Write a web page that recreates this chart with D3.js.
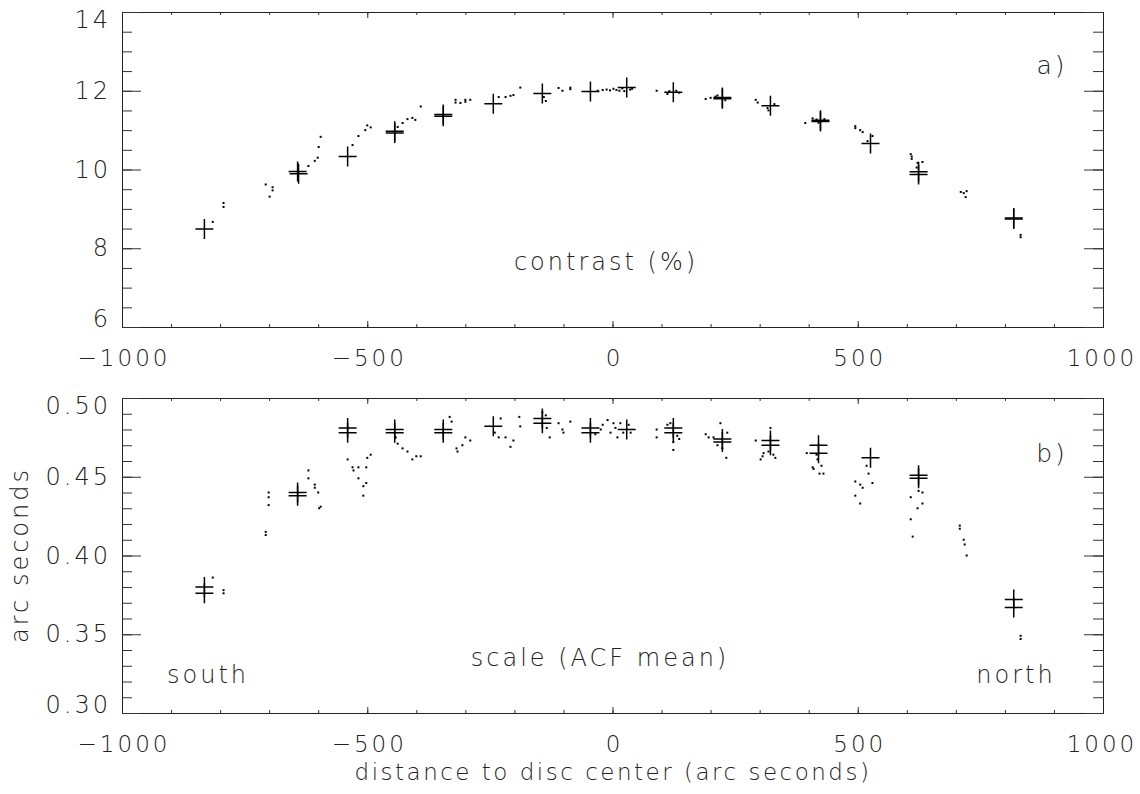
<!DOCTYPE html>
<html>
<head>
<meta charset="utf-8">
<script src="https://cdn.jsdelivr.net/npm/d3@7"></script>
<style>
  body { margin: 0; background: #fff; }
  text { font-family: "DejaVu Sans", "Liberation Sans", sans-serif; font-weight: 200; fill: #222; letter-spacing: 3px; }
</style>
</head>
<body>
<svg id="chart" width="1140" height="794"></svg>
<script>
// panel a) contrast (%)
const crossA = [
  [-832, 8.49], [-642, 9.95], [-640, 9.89], [-540, 10.33], [-444, 10.97], [-444, 10.93],
  [-345, 11.40], [-345, 11.35], [-243, 11.67], [-143, 11.93], [-45, 11.98], [29, 12.08],
  [124, 11.96], [224, 11.80], [224, 11.83], [322, 11.62], [424, 11.25], [424, 11.22],
  [526, 10.66], [624, 9.94], [624, 9.87], [818, 8.77], [818, 8.74]
];
const dotsA = [
  [-815, 8.67], [-793, 9.15], [-793, 9.05], [-707, 9.62], [-693, 9.55], [-693, 9.47], [-699, 9.31],
  [-620, 10.09], [-607, 10.22], [-601, 10.30], [-599, 10.57], [-595, 10.83],
  [-530, 10.62], [-518, 10.85], [-504, 11.00], [-500, 11.12], [-493, 11.07],
  [-438, 11.08], [-428, 11.18], [-418, 11.28], [-408, 11.31], [-402, 11.26], [-391, 11.60],
  [-320, 11.77], [-320, 11.70], [-310, 11.69], [-300, 11.72], [-300, 11.77], [-290, 11.77],
  [-232, 11.84], [-218, 11.84], [-208, 11.87], [-202, 11.89], [-188, 12.08],
  [-140, 11.84], [-136, 11.74], [-110, 12.07], [-102, 12.00], [-86, 12.04], [-86, 12.08],
  [-30, 12.00], [-20, 12.02], [-12, 12.03], [-5, 12.01], [2, 12.05], [8, 12.02], [14, 12.00],
  [20, 12.06], [24, 11.99], [36, 12.03], [40, 12.05],
  [90, 12.00], [112, 11.92], [116, 11.99], [130, 12.00], [136, 11.95],
  [190, 11.79], [200, 11.82], [210, 11.85], [214, 11.88], [230, 11.76],
  [292, 11.77], [296, 11.70], [316, 11.56], [318, 11.50], [330, 11.66],
  [393, 11.18], [408, 11.30], [416, 11.27], [420, 11.19], [432, 11.28],
  [495, 11.10], [495, 11.05], [505, 11.00], [510, 10.95], [520, 10.72], [530, 10.85],
  [608, 10.39], [610, 10.33], [610, 10.27], [622, 10.17], [632, 10.19], [620, 10.05],
  [710, 9.43], [716, 9.40], [720, 9.30], [722, 9.45], [832, 8.34], [832, 8.28]
];

// panel b) scale (ACF mean), arc seconds
const crossB = [
  [-832, 0.380], [-832, 0.376], [-642, 0.440], [-642, 0.438], [-540, 0.481], [-540, 0.478],
  [-444, 0.480], [-444, 0.478], [-345, 0.480], [-345, 0.478], [-243, 0.482],
  [-143, 0.487], [-143, 0.484], [-45, 0.481], [-45, 0.478], [29, 0.480],
  [124, 0.478], [124, 0.481], [224, 0.474], [224, 0.472], [322, 0.473], [322, 0.470],
  [420, 0.470], [420, 0.465], [526, 0.462], [624, 0.451], [624, 0.449],
  [818, 0.372], [818, 0.367]
];
const dotsB = [
  [-815, 0.386], [-793, 0.378], [-793, 0.376], [-707, 0.415], [-707, 0.413],
  [-701, 0.440], [-701, 0.437], [-701, 0.432],
  [-620, 0.454], [-620, 0.449], [-607, 0.445], [-607, 0.443], [-600, 0.440], [-595, 0.431], [-598, 0.430],
  [-540, 0.461], [-530, 0.456], [-528, 0.454], [-518, 0.456], [-518, 0.449], [-508, 0.444],
  [-508, 0.438], [-502, 0.446], [-502, 0.456], [-500, 0.462], [-493, 0.464],
  [-442, 0.475], [-438, 0.471], [-428, 0.468], [-418, 0.466], [-408, 0.461], [-400, 0.463], [-391, 0.463],
  [-328, 0.485], [-332, 0.488], [-318, 0.468], [-316, 0.466], [-306, 0.470], [-300, 0.475], [-290, 0.473],
  [-240, 0.478], [-232, 0.475], [-228, 0.487], [-218, 0.475], [-208, 0.469], [-202, 0.473],
  [-190, 0.488], [-188, 0.482],
  [-143, 0.491], [-136, 0.489], [-134, 0.481], [-128, 0.475], [-110, 0.484], [-102, 0.480],
  [-100, 0.478], [-86, 0.485],
  [-35, 0.477], [-24, 0.480], [-20, 0.483], [-10, 0.486], [-4, 0.478], [2, 0.484], [6, 0.481],
  [10, 0.475], [16, 0.484], [22, 0.478], [33, 0.483], [37, 0.478],
  [90, 0.480], [90, 0.475], [112, 0.483], [118, 0.484], [124, 0.472], [124, 0.467], [132, 0.476], [136, 0.474],
  [190, 0.477], [196, 0.475], [206, 0.475], [220, 0.484], [234, 0.478], [214, 0.470], [224, 0.468], [232, 0.462],
  [292, 0.473], [306, 0.463], [308, 0.465], [302, 0.461], [318, 0.466], [322, 0.481], [328, 0.464], [332, 0.462],
  [396, 0.465], [408, 0.456], [410, 0.455], [416, 0.464], [418, 0.461], [422, 0.452], [430, 0.452], [426, 0.457],
  [495, 0.447], [505, 0.445], [510, 0.443], [495, 0.438], [505, 0.433], [518, 0.457], [522, 0.452], [530, 0.446],
  [608, 0.437], [608, 0.423], [612, 0.412], [622, 0.430], [624, 0.441], [632, 0.440], [632, 0.433],
  [708, 0.419], [708, 0.417], [716, 0.410], [718, 0.407], [722, 0.400],
  [832, 0.349], [832, 0.347]
];

const xTicks = [-1000, -500, 0, 500, 1000];
const yTicksA = [6, 8, 10, 12, 14];
const yTicksB = [0.30, 0.35, 0.40, 0.45, 0.50];

const svg = d3.select("#chart");
const x = d3.scaleLinear().domain([-1000, 1000]).range([122, 1103]);

function panel(top, yDom, yMajor, yMinorStep, yFmt, crosses, dots) {
  const bottom = top + 315;
  const y = d3.scaleLinear().domain(yDom).range([bottom, top]);
  const g = svg.append("g");

  const xMinor = d3.range(-1000, 1001, 100);
  const yMinor = d3.range(yDom[0], yDom[1] + yMinorStep / 2, yMinorStep);

  // ticks pointing inward, drawn with d3 axes
  const tick = (axis, tr) => g.append("g").attr("transform", tr).call(axis)
    .call(s => s.selectAll("text").remove())
    .call(s => s.select(".domain").attr("stroke", "#222"))
    .call(s => s.selectAll("line").attr("stroke", "#333"));

  tick(d3.axisBottom(x).tickValues(xMinor).tickSizeInner(-3).tickSizeOuter(0), `translate(0,${bottom})`);
  tick(d3.axisBottom(x).tickValues(xTicks).tickSizeInner(-6).tickSizeOuter(0), `translate(0,${bottom})`);
  tick(d3.axisTop(x).tickValues(xMinor).tickSizeInner(-3).tickSizeOuter(0), `translate(0,${top})`);
  tick(d3.axisTop(x).tickValues(xTicks).tickSizeInner(-6).tickSizeOuter(0), `translate(0,${top})`);
  tick(d3.axisLeft(y).tickValues(yMinor).tickSizeInner(-10).tickSizeOuter(0), `translate(${x.range()[0]},0)`);
  tick(d3.axisLeft(y).tickValues(yMajor).tickSizeInner(-19).tickSizeOuter(0), `translate(${x.range()[0]},0)`);
  tick(d3.axisRight(y).tickValues(yMinor).tickSizeInner(-10).tickSizeOuter(0), `translate(${x.range()[1]},0)`);
  tick(d3.axisRight(y).tickValues(yMajor).tickSizeInner(-19).tickSizeOuter(0), `translate(${x.range()[1]},0)`);

  // y tick labels (end labels nudged inside, like IDL)
  g.selectAll(".ylab").data(yMajor).join("text")
    .attr("x", 111)
    .attr("y", (d, i) => y(d) + 8 + (i === yMajor.length - 1 ? 8 : i === 0 ? -8 : 0))
    .attr("text-anchor", "end")
    .attr("font-size", 24)
    .text(yFmt);

  // x tick labels
  g.selectAll(".xlab").data(xTicks).join("text")
    .attr("x", (d, i) => x(d) + (i === xTicks.length - 1 ? -1 : 2))
    .attr("y", bottom + 39)
    .attr("text-anchor", "middle")
    .attr("font-size", 23)
    .text(d => d < 0 ? "\u2212" + Math.abs(d) : d);

  // data dots
  g.selectAll(".dot").data(dots).join("rect")
    .attr("x", d => x(d[0]) - 1)
    .attr("y", d => y(d[1]) - 1)
    .attr("width", 2).attr("height", 2)
    .attr("fill", "#000");

  // plus symbols
  g.selectAll(".cross").data(crosses).join("path")
    .attr("d", d => {
      const cx = x(d[0]), cy = y(d[1]);
      return `M${cx - 9},${cy}H${cx + 9}M${cx},${cy - 10}V${cy + 10}`;
    })
    .attr("stroke", "#000").attr("stroke-width", 1.5).attr("fill", "none");

  return { g, y };
}

const pa = panel(12, [6, 14], yTicksA, 0.5, d => d, crossA, dotsA);
const pb = panel(398, [0.30, 0.50], yTicksB, 0.01, d => d3.format(".2f")(d), crossB, dotsB);

pa.g.append("text").attr("x", 1052).attr("y", 74).attr("text-anchor", "middle").attr("font-size", 25).text("a)");
pa.g.append("text").attr("x", 606).attr("y", 270).attr("text-anchor", "middle").attr("font-size", 24).text("contrast (%)");

pb.g.append("text").attr("x", 1052).attr("y", 462).attr("text-anchor", "middle").attr("font-size", 25).text("b)");
pb.g.append("text").attr("x", 600).attr("y", 666).attr("text-anchor", "middle").attr("font-size", 24).text("scale (ACF mean)");
pb.g.append("text").attr("x", 208).attr("y", 683).attr("text-anchor", "middle").attr("font-size", 24).text("south");
pb.g.append("text").attr("x", 1016).attr("y", 683).attr("text-anchor", "middle").attr("font-size", 24).text("north");

svg.append("text").attr("transform", "translate(28,555) rotate(-90)")
  .attr("text-anchor", "middle").attr("font-size", 24).text("arc seconds");
svg.append("text").attr("x", 613).attr("y", 780)
  .attr("text-anchor", "middle").attr("font-size", 23).style("letter-spacing", "2.5px")
  .text("distance to disc center (arc seconds)");
</script>
</body>
</html>
